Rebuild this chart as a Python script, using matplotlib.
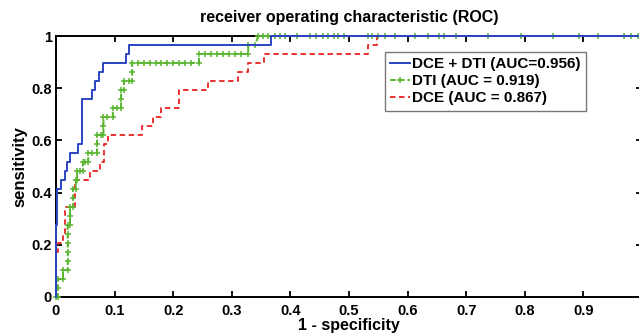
import matplotlib
matplotlib.use("Agg")
import matplotlib.pyplot as plt

plt.rcParams['font.family'] = ['Liberation Sans', 'DejaVu Sans']
plt.rcParams['font.weight'] = 'bold'

title = "receiver operating characteristic (ROC)"
xlabel = "1 - specificity"
ylabel = "sensitivity"
labels = ["DCE + DTI (AUC=0.956)", "DTI (AUC = 0.919)", "DCE (AUC = 0.867)"]

# DCE + DTI (blue)
fpr_both = [0, 0, 0.002, 0.002, 0.009, 0.009, 0.015, 0.015, 0.019, 0.019, 0.024, 0.024,
            0.038, 0.038, 0.044, 0.044, 0.061, 0.061, 0.067, 0.067, 0.073, 0.073, 0.080, 0.080,
            0.120, 0.120, 0.125, 0.125, 0.367, 0.367, 1.0]
tpr_both = [0, 0.276, 0.276, 0.414, 0.414, 0.448, 0.448, 0.483, 0.483, 0.517, 0.517, 0.552,
            0.552, 0.586, 0.586, 0.759, 0.759, 0.793, 0.793, 0.828, 0.828, 0.862, 0.862, 0.897,
            0.897, 0.931, 0.931, 0.966, 0.966, 1.0, 1.0]

# DTI (green, with markers)
fpr_dti = [0, 0.003, 0.003, 0.003, 0.012, 0.012, 0.020, 0.020, 0.020, 0.020, 0.020, 0.020,
           0.024, 0.024, 0.024, 0.029, 0.029, 0.029, 0.034, 0.034, 0.036, 0.036, 0.041, 0.046,
           0.046, 0.050, 0.055, 0.055, 0.062, 0.070, 0.070, 0.070, 0.076, 0.081, 0.081, 0.081,
           0.087, 0.097, 0.097, 0.104, 0.111, 0.111, 0.111, 0.116, 0.116, 0.124, 0.130, 0.130,
           0.130, 0.140, 0.150, 0.160, 0.170, 0.180, 0.190, 0.200, 0.210, 0.220, 0.230, 0.244,
           0.244, 0.255, 0.265, 0.275, 0.285, 0.295, 0.305, 0.315, 0.328, 0.328, 0.340, 0.345,
           0.354, 0.362, 0.374, 0.383, 0.391, 0.412, 0.434, 0.444, 0.455, 0.465, 0.474, 0.482,
           0.491, 0.532, 0.540, 0.550, 0.562, 0.579, 0.612, 0.634, 0.653, 0.662, 0.682, 0.738,
           0.793, 0.848, 0.892, 0.925, 0.969, 0.981, 0.993, 1.0]
tpr_dti = [0, 0, 0.034, 0.069, 0.069, 0.103, 0.103, 0.138, 0.172, 0.207, 0.241, 0.276,
           0.276, 0.310, 0.345, 0.345, 0.379, 0.414, 0.414, 0.448, 0.448, 0.483, 0.483, 0.483,
           0.517, 0.517, 0.517, 0.552, 0.552, 0.552, 0.586, 0.621, 0.621, 0.621, 0.655, 0.690,
           0.690, 0.690, 0.724, 0.724, 0.724, 0.759, 0.793, 0.793, 0.828, 0.828, 0.828, 0.862,
           0.897, 0.897, 0.897, 0.897, 0.897, 0.897, 0.897, 0.897, 0.897, 0.897, 0.897, 0.897,
           0.931, 0.931, 0.931, 0.931, 0.931, 0.931, 0.931, 0.931, 0.931, 0.966, 0.966, 1.0,
           1.0, 1.0, 1.0, 1.0, 1.0, 1.0, 1.0, 1.0, 1.0, 1.0, 1.0, 1.0,
           1.0, 1.0, 1.0, 1.0, 1.0, 1.0, 1.0, 1.0, 1.0, 1.0, 1.0, 1.0,
           1.0, 1.0, 1.0, 1.0, 1.0, 1.0, 1.0, 1.0]

# DCE (red dashed)
fpr_dce = [0, 0, 0.003, 0.003, 0.012, 0.012, 0.016, 0.016, 0.032, 0.032, 0.058, 0.058,
           0.075, 0.075, 0.082, 0.082, 0.089, 0.089, 0.147, 0.147, 0.166, 0.166, 0.180, 0.180,
           0.210, 0.210, 0.260, 0.260, 0.310, 0.310, 0.328, 0.328, 0.355, 0.355, 0.532, 0.532,
           0.548, 0.548, 1.0]
tpr_dce = [0, 0.172, 0.172, 0.207, 0.207, 0.241, 0.241, 0.345, 0.345, 0.448, 0.448, 0.483,
           0.483, 0.517, 0.517, 0.586, 0.586, 0.621, 0.621, 0.655, 0.655, 0.690, 0.690, 0.724,
           0.724, 0.793, 0.793, 0.828, 0.828, 0.862, 0.862, 0.897, 0.897, 0.931, 0.931, 0.966,
           0.966, 1.0, 1.0]

xticks = [0, 0.1, 0.2, 0.3, 0.4, 0.5, 0.6, 0.7, 0.8, 0.9, 1]
xticklabels = ["0", "0.1", "0.2", "0.3", "0.4", "0.5", "0.6", "0.7", "0.8", "0.9", "1"]
yticks = [0, 0.2, 0.4, 0.6, 0.8, 1]
yticklabels = ["0", "0.2", "0.4", "0.6", "0.8", "1"]

W, H = 639, 334
fig = plt.figure(figsize=(W / 100, H / 100), dpi=100)
x0, x1 = 56, 642
y0, y1 = 297, 36
ax = fig.add_axes([x0 / W, 1 - y0 / H, (x1 - x0) / W, (y0 - y1) / H])

ax.plot(fpr_both, tpr_both, color='#2a44c4', lw=1.4, label=labels[0], clip_on=False, zorder=4)
ax.plot(fpr_dti, tpr_dti, color='#5ab530', lw=1.4, ls=(0, (3, 1.5)), marker='+', markersize=4,
        markeredgewidth=1.1, label=labels[1], clip_on=False, zorder=3)
ax.plot(fpr_dce, tpr_dce, color='#e8231f', lw=1.3, ls=(0, (3, 2)), label=labels[2],
        clip_on=False, zorder=2)

ax.set_xlim(0, 1)
ax.set_ylim(0, 1)
ax.set_xticks(xticks)
ax.set_xticklabels(xticklabels)
ax.set_yticks(yticks)
ax.set_yticklabels(yticklabels)
ax.tick_params(direction='in', length=4, width=1.3, top=True, right=True,
               labelsize=10.5)
ax.tick_params(axis='x', pad=5)
ax.tick_params(axis='y', pad=3)
for lab in ax.get_xticklabels() + ax.get_yticklabels():
    lab.set_fontweight('bold')
for s in ax.spines.values():
    s.set_linewidth(1.4)

ax.set_title(title, fontsize=11.5, fontweight='bold', pad=10)
ax.set_xlabel(xlabel, fontsize=11.5, fontweight='bold', labelpad=0)
ax.set_ylabel(ylabel, fontsize=12, fontweight='bold', labelpad=3)

leg = ax.legend(loc='upper left', bbox_to_anchor=(385 / W, 1 - 52 / H),
                bbox_transform=fig.transFigure, borderaxespad=0, handlelength=1.3,
                handletextpad=0.15, borderpad=0.35, labelspacing=0.2,
                fancybox=False, framealpha=1, edgecolor='#777777',
                prop={'weight': 'bold', 'size': 11})
leg.get_frame().set_linewidth(1.0)

fig.savefig("out.png", dpi=100)
